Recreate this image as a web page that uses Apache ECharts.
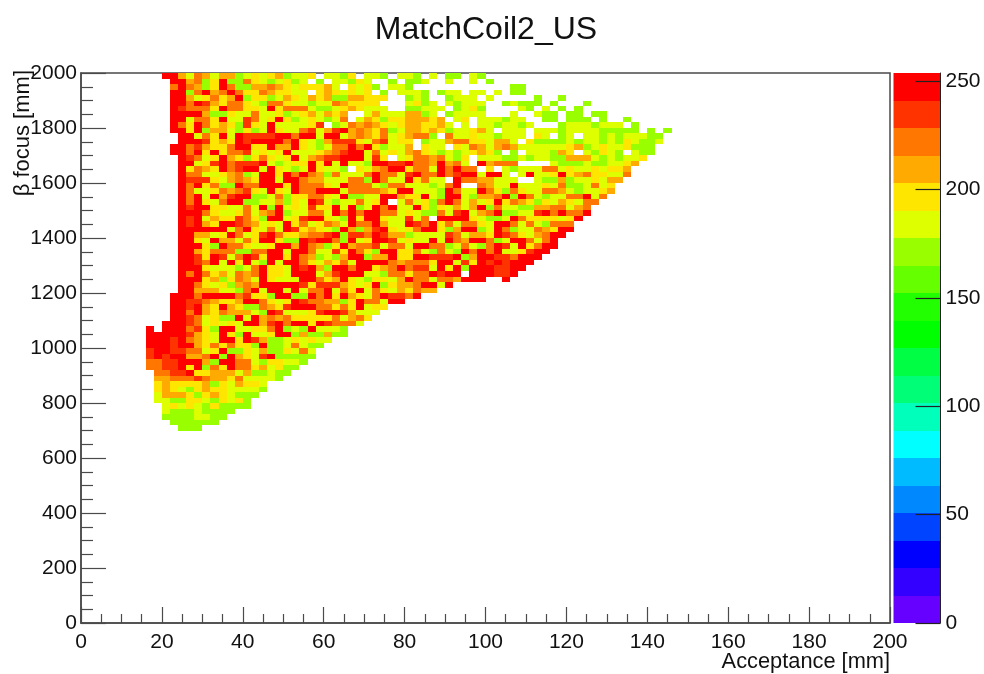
<!DOCTYPE html>
<html><head><meta charset="utf-8">
<script src="https://cdn.jsdelivr.net/npm/echarts@6/dist/echarts.min.js"></script>
<style>html,body{margin:0;padding:0;background:#fff}#c{width:984px;height:674px}</style>
</head><body><div id="c"></div>
<script>
const chartTitle = 'MatchCoil2_US';
const xName = 'Acceptance [mm]';
const yName = 'β focus [mm]';
const binWidth = 2, binHeight = 20, yTop = 2000, firstLeftBin = 8, firstRightBin = 40;
const paletteMax = 253.7;
const paletteTicks = [0, 50, 100, 150, 200, 250];
const palette = ['#6600FF','#3300FF','#0000FF','#0044FF','#0088FF','#00BBFF','#00FFFF','#00FFBB','#00FF77','#00FF44',
  '#00FF00','#22FF00','#66FF00','#99FF00','#DDFF00','#FFE600','#FFAA00','#FF7700','#FF3300','#FF0000'];
const codeValues = {R:247, O:235, N:222, A:209, Y:197, L:184, G:171};

// rows from y=2000 downwards; one letter per 2 mm bin, bins 8..39 (x = 16..80 mm)
const rowsLeft = [
"..RRA LNALA AGLYL YAGLL Y.LLG Y.LLG .L",
"...RR ANGYR GGNYL GLYGL .G.LL GYL.. G.",
"...NR NAGYR NGGAA NAYLY YYAL. YLYG. LL",
"...RR GNRAN RNYYN AYYLL .YAYL YLY.G .L",
"...RR ALYNY ARGYY GLAYL AYAGG AAYYY ..",
"...RR NROAY NNYLG NNYLL GLLNA YYYY. ..",
"...RO NNNYR NNYYL RYNNN LGGLY AYLLL ..",
"...RR RRAGG YLLNL LYGLY ALAYA ..LAL LL",
"...RR LNNYR LLONL YRYGL YLGLN .LAYG YY",
"...RN YRNYA YGOYL RLLLL YO.GL NANAY LY",
"...RR YRGAA LGYGL RYLLN OLAOR ANAYN GL",
"....R RLNYR LROOO ORRNR RLRRL ANAYN LY",
"....R RROYA YRORR RRNRY LGAOO OYLNO LY",
"...RR NOAYY NRRYY RAARY LGLNN RNRYG LL",
"...RR NRYRY NNOLY LYRLL LYANO RRLNL YL",
"....R ONLYR AYGYN YLYRL ANOOR RRLOY .L",
"....R RLYOR NOOOR LGLYY RYRLR LLGRR OO",
"....R YNAYR NORRL RYLGL RYLLG .YLAN RR",
"....R NNLLY ANGLR RYRNR NAGNL LLNRN NL",
"....R OOOYL ANAYR RLRRN AALLL NNGRN LL",
"....R NRYNG GRNNR RRYRN NNYLR NNNLG NN",
"....R NLLYN ANOYL RYLRN NRRRL NNNNA YR",
"....R NRLRA ORRGG LNGYY NNYLR GGLLR RA",
"....R NRYLN RRGGL LAGYL ROLGL LNLYR .L",
"....R ORRYY LLNLR GRLYL OYYRL RGLRN RL",
"....R RRNYL LYNLA NRGLL NNLRN RNRRN NL",
"....R ORLAY YONYG RRLYO RRYLG RYRRY LL",
"....R ORAYR RONAL YLRYN LYNAL RNNRA LL",
"....R RRRRR LNRYL NLROY AYLGR AGAOR YL",
"....R RAALY RNLYO RNYYA NNORG OONRO AA",
"....R RYLRA ALNYR RYGGR ORRNG RLYRR OL",
"....R RRYGR NNYLL YRRAR NAGYR ANNOL NN",
"....R RAYNN NGGNN RRLRR NLLOY RNYGR RY",
"....R ROYRO LNROY RRYRN AGLGA RRGAA RY",
"....R RONRL RYRLG RLRRN YLAYN LRRRR NA",
"....R RRYLL LGLNR YYLRO RAGRR NRRYA NR",
"....R NRNYA LNANR YYLRR RLAOR RRLLG NN",
"....R RRYAG YNALR YLLLR RNYAR YLGYY LA",
"....R RNYLY GANAR RRRRO YOOOA YLYRG YA",
"....R RAAAL LGNRL RRLRL NNRLN YRLNY LA",
"...RR RNRRR RNOYY GRRGG RNRYR AYLNR OO",
"...RR OONAY YARRN YLYRO NNAAG YRNNL RR",
"...RR ORAYR AYGGN AYORR RNNYN YRLYY",
"...RR NRAYN AAALG ROLLL YORRO ALLL",
"...RR ONLYG GRLRA NANYY YYYNL ANY",
"..RRR ONLYL YLRRA ORNRR YRONN NL",
"R.RRR NOYGR RLLYY NRGLG RLLLG",
"RRRRR OAYLR YGRLL YRRGA GGAGG",
"RRROR NAYLR RYROA GGLYL YLL",
"RRROR RAYNY NYYGR GGLNL GG",
"ORROO NNLYR GGYLA GGYLN L",
"ORORR AANRG RAYLO RGGGG G",
"NNOOR RRAGR RNNLG YYLLG",
"NNOOR YRGNY RNNYA LYGG",
".NNOO RYYAA ALAGG LGG",
".AANN NONAA YNLLL LG",
".YAYY YYAGY LAYYL",
".YAYL GYAYY LLLLG",
".LAAA YGYAY LGGG",
".LLGG YYLGY LYG",
"..LYL YLGYG GGG",
"..LGG GLGGG G",
"..GGG GLLGG",
"...GG GGGG",
"....G GG"
];

// same rows, bins 40 and up (x from 80 mm)
const rowsRight = [
"LG.L. GG.LG",
"GGL.. L..L. G",
"G.... ..... ...GG",
"LLG.G LL.LL .L.GG",
"GLG.. GLLL. L.... .G..G",
"LYGL. LGLLL ..GLG GG.G. ..G",
"GGLLL .GLYG ....L G.L.G .G",
"AAGL. GLLLL ...L. .LGG. GG.GG",
"AAAYA .LY.L LLGLL ..GG. GGG.G ..G",
"AAYYA L.L.L LGLLG L...G LLLGL LL.G.",
"AAYAY GLLYA L.LLL .LLLG LLLLG GGGG. G.G",
"ANNG. NLLYL LGLLL .YL.G L.LLG LGLLL GG",
"Y.GLL ANNYY LAAL. YGGGG LGLLG LGYLG GL",
"A.YLL .YLNA LANAL LLLLL YAGLY LLYGG G",
"ANYLG LGLYA YG.G. LLLGA Y.LGY LG.LG G",
"YNNAN LGY.L LLGGL GLLGG AAALG LGLLY",
"RNNAR ANL.R ANNN. ...LG GGLGG LLYA",
"YNNLR NRNN. Y.LGL LLNNL YLLYL YYA",
"ORNNR NORRL RRL.L RLLYR YANYY LLN",
"RYNLL .RNNA ALLL. .LGGA GLLYL AA",
"LLLGL NR..N ALLRL LLYLN GGLNL Y",
"RLLLG RNLLR NYGNY LLNNA LGLLY A",
"YYRLG RRLGA ANRGR NLGLL NNRLN",
"NLYGN RNLAL YRYNA YGYLA YLNN",
"LRYGY LALAR GNLLG GAANN LAN",
"YLGGN LORLA NRGGL LORNR NNR",
"OLN.R RRRYL GGLRN YYYYL YR",
"RONRY NLNNY LRRNL NLGNN N",
"YNRRY GARRG LRNGL LNAYR R",
"GLLLL ONLAA YRONY LANRR",
"YLLRL RNARR NGLRR NLNR",
"LRRNN GLNLG NROLR YNRR",
"YNLGN LGRNR NRLLY ORR",
"YRROO ORGAR ROONR RR",
"NNNYR RLOYR ORORR R",
"NOOLR YRGRR ROORR",
"YNNRO RR.RR ROOR",
"RNNLN NARRR ..R",
"ANRRL R",
"YNAA",
"NR"
];

const paletteStep = paletteMax / palette.length;
const cells = [];
function addRow(str, rowIndex, startBin) {
  const s = str.replace(/ /g, '');
  for (let i = 0; i < s.length; i++) {
    if (s[i] === '.') continue;
    cells.push([(startBin + i) * binWidth, yTop - (rowIndex + 1) * binHeight, codeValues[s[i]]]);
  }
}
rowsLeft.forEach((r, i) => addRow(r, i, firstLeftBin));
rowsRight.forEach((r, i) => addRow(r, i, firstRightBin));
const paletteCells = palette.map((c, i) => [i * paletteStep, (i + 1) * paletteStep, i]);

const font = '"Liberation Sans", Arial, sans-serif';
const inkColor = '#111';
const lineColor = '#4a4a4a';
const plain = v => String(v);
const chart = echarts.init(document.getElementById('c'), null, {renderer: 'canvas'});
chart.setOption({
  animation: false,
  backgroundColor: '#fff',
  title: {text: chartTitle, left: 481, top: 9, textAlign: 'center',
    textStyle: {fontFamily: font, fontSize: 32, fontWeight: 'normal', color: inkColor}},
  graphic: [
    {type: 'text', x: 890, y: 662, z: 20, style: {text: xName, align: 'right', verticalAlign: 'middle', fontFamily: font, fontSize: 21.8, fill: inkColor}},
    {type: 'text', x: 23, y: 70, rotation: Math.PI / 2, z: 20, style: {text: yName, align: 'right', verticalAlign: 'middle', fontFamily: font, fontSize: 22, fill: inkColor}}
  ],
  grid: [
    {left: 81, top: 73, width: 809, height: 550, show: true, borderColor: lineColor, borderWidth: 1.5, backgroundColor: '#fff', outerBoundsMode: 'none'},
    {left: 893.5, top: 73, width: 47, height: 550, outerBoundsMode: 'none'}
  ],
  xAxis: [
    {type: 'value', gridIndex: 0, min: 0, max: 200, interval: 20,
      axisLine: {show: true, onZero: false, lineStyle: {color: lineColor, width: 1.5}},
      axisTick: {show: true, inside: true, length: 16, lineStyle: {color: lineColor, width: 1.2}},
      minorTick: {show: true, splitNumber: 4, length: 9, lineStyle: {color: lineColor, width: 1.2}},
      minorSplitLine: {show: false}, splitLine: {show: false},
      axisLabel: {margin: 9, fontFamily: font, fontSize: 21, color: inkColor, formatter: plain}},
    {type: 'value', gridIndex: 1, min: 0, max: 1, show: false}
  ],
  yAxis: [
    {type: 'value', gridIndex: 0, min: 0, max: 2000, interval: 200,
      axisLine: {show: true, onZero: false, lineStyle: {color: lineColor, width: 1.5}},
      axisTick: {show: true, inside: true, length: 25, lineStyle: {color: lineColor, width: 1.2}},
      minorTick: {show: true, splitNumber: 4, length: 12, lineStyle: {color: lineColor, width: 1.2}},
      minorSplitLine: {show: false}, splitLine: {show: false},
      axisLabel: {margin: 4, padding: [7, 0, 0, 0], fontFamily: font, fontSize: 21, color: inkColor, formatter: plain}},
    {type: 'value', gridIndex: 1, min: 0, max: paletteMax, position: 'right', z: 10,
      axisLine: {show: true, onZero: false, lineStyle: {color: '#222', width: 1}},
      axisTick: {show: true, inside: true, length: 25, customValues: paletteTicks, lineStyle: {color: '#222', width: 1.2}},
      splitLine: {show: false},
      axisLabel: {margin: 5, fontFamily: font, fontSize: 21, color: inkColor, customValues: paletteTicks, formatter: plain}}
  ],
  series: [
    {type: 'custom', xAxisIndex: 0, yAxisIndex: 0, data: cells, silent: true, z: 5,
      encode: {x: 0, y: 1},
      renderItem(params, api) {
        const x = api.value(0), y = api.value(1), v = api.value(2);
        const a = api.coord([x, y + binHeight]), b = api.coord([x + binWidth, y]);
        const x0 = Math.round(a[0]), y0 = Math.round(a[1]), x1 = Math.round(b[0]), y1 = Math.round(b[1]);
        return {type: 'rect', shape: {x: x0, y: y0, width: x1 - x0, height: y1 - y0},
          style: {fill: palette[Math.min(palette.length - 1, Math.floor(v / paletteStep))]}};
      }},
    {type: 'custom', xAxisIndex: 1, yAxisIndex: 1, data: paletteCells, silent: true, z: 1,
      encode: {y: [0, 1]},
      renderItem(params, api) {
        const a = api.coord([0, api.value(1)]), b = api.coord([1, api.value(0)]);
        const y0 = Math.round(a[1]), y1 = Math.round(b[1]);
        return {type: 'rect', shape: {x: a[0], y: y0, width: b[0] - a[0], height: y1 - y0},
          style: {fill: palette[api.value(2)]}};
      }}
  ]
});
</script>
</body></html>
